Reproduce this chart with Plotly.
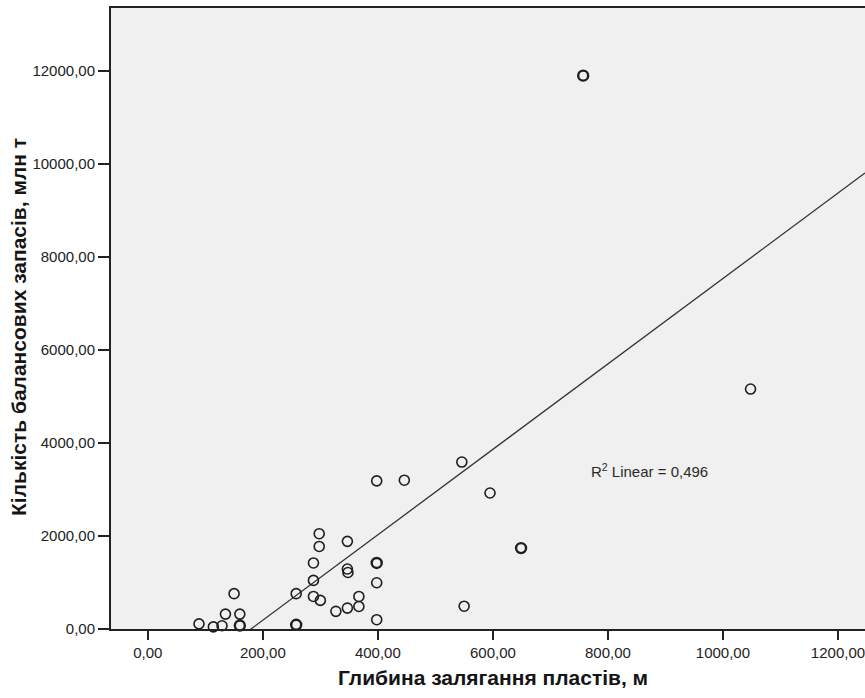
import numpy as np
import plotly.graph_objects as go
from collections import Counter

# Depth of seams, m (duplicates = overlapping cases)
depth_m = [757, 757, 1048, 546, 446, 398, 595, 649, 649, 550,
           298, 347, 298, 288, 398, 398, 347, 348, 398, 288,
           150, 258, 288, 300, 367, 367, 347, 327, 135, 160,
           398, 89, 114, 129, 160, 160, 258, 258]
# Balance reserves, mln t
reserves = [11900, 11900, 5160, 3590, 3200, 3185, 2925, 1740, 1740, 490,
            2050, 1885, 1775, 1420, 1420, 1420, 1290, 1215, 995, 1045,
            760, 760, 700, 615, 700, 485, 450, 380, 320, 320,
            200, 110, 45, 70, 75, 75, 90, 90]

x_ticks = [0, 200, 400, 600, 800, 1000, 1200]
x_tick_text = ["0,00", "200,00", "400,00", "600,00", "800,00", "1000,00", "1200,00"]
y_ticks = [0, 2000, 4000, 6000, 8000, 10000, 12000]
y_tick_text = ["0,00", "2000,00", "4000,00", "6000,00", "8000,00", "10000,00", "12000,00"]
r2_label = "R<sup>2</sup> Linear = 0,496"
x_title = "Глибина залягання пластів, м"
y_title = "Кількість балансових запасів, млн т"

x_range = [-64, 1247]
y_range = [0, 13355]

# unique points with multiplicity -> bolder outline
cnt = Counter(zip(depth_m, reserves))
ux = [p[0] for p in cnt]
uy = [p[1] for p in cnt]
lw = [1.6 if cnt[p] == 1 else 2.4 for p in cnt]

# linear fit
slope, intercept = np.polyfit(np.array(depth_m, float), np.array(reserves, float), 1)
fx = np.array([x_range[0], x_range[1]], float)
fy = intercept + slope * fx

W, H = 865, 698
ml, mt, mb, mr = 111, 8, 69, 0
pw, ph = W - ml - mr, H - mt - mb

def px_x(px):
    return (px - ml) / pw

def px_y(py):
    return (H - mb - py) / ph

FONT = "Liberation Sans, Arial, sans-serif"

fig = go.Figure()
fig.add_trace(go.Scatter(x=fx, y=fy, mode="lines",
                         line=dict(color="#333333", width=1.3),
                         hoverinfo="skip", showlegend=False))
fig.add_trace(go.Scatter(x=ux, y=uy, mode="markers",
                         marker=dict(symbol="circle-open", size=10,
                                     color="#1e1e1e",
                                     line=dict(color="#1e1e1e", width=lw)),
                         showlegend=False, cliponaxis=False))

fig.add_annotation(x=px_x(589), y=px_y(470), xref="paper", yref="paper",
                   text=r2_label, showarrow=False, xanchor="left", yanchor="middle",
                   font=dict(family=FONT, size=15, color="#2a2a2a"))
fig.add_annotation(x=px_x(493), y=px_y(678), xref="paper", yref="paper",
                   text="<b>" + x_title + "</b>", showarrow=False,
                   xanchor="center", yanchor="middle",
                   font=dict(family=FONT, size=21, color="#151515"))
fig.add_annotation(x=px_x(18), y=px_y(327), xref="paper", yref="paper",
                   text="<b>" + y_title + "</b>", showarrow=False, textangle=-90,
                   xanchor="center", yanchor="middle",
                   font=dict(family=FONT, size=21, color="#151515"))

axis_font = dict(family=FONT, size=15, color="#222222")
fig.update_layout(
    width=W, height=H,
    margin=dict(l=ml, r=mr, t=mt, b=mb, pad=0),
    paper_bgcolor="white",
    plot_bgcolor="#f0f0f0",
    xaxis=dict(range=x_range, tickvals=x_ticks, ticktext=x_tick_text,
               showgrid=False, zeroline=False, showline=True, linecolor="#222222",
               linewidth=2, mirror=True, ticks="outside", ticklen=9, tickwidth=1.6,
               tickcolor="#222222", tickfont=axis_font, ticklabeloverflow="allow"),
    yaxis=dict(range=y_range, tickvals=y_ticks, ticktext=y_tick_text,
               showgrid=False, zeroline=False, showline=True, linecolor="#222222",
               linewidth=2, mirror=False, ticks="outside", ticklen=11, tickwidth=1.6,
               tickcolor="#222222", tickfont=axis_font, ticklabelstandoff=0),
    font=dict(family=FONT),
)

fig.write_html("out.html")
